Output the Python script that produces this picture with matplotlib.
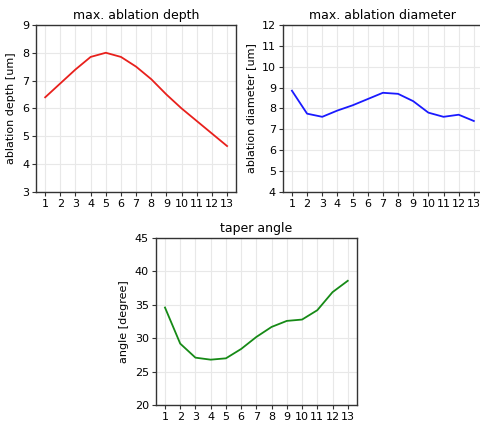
import numpy as np
import matplotlib
matplotlib.use('Agg')
import matplotlib.pyplot as plt

# values
shots = list(range(1, 14))
depth = [6.4, 6.9, 7.4, 7.85, 8.0, 7.85, 7.5, 7.05, 6.5, 6.0, 5.55, 5.1, 4.65]
diameter = [8.85, 7.75, 7.6, 7.9, 8.15, 8.45, 8.75, 8.7, 8.35, 7.8, 7.6, 7.7, 7.4]
angle = [34.6, 29.2, 27.1, 26.8, 27.0, 28.4, 30.2, 31.7, 32.6, 32.8, 34.2, 36.9, 38.6]

fig = plt.figure(figsize=(4.81, 4.22), dpi=100)

ax1 = fig.add_axes([0.075, 0.545, 0.416, 0.396])
ax2 = fig.add_axes([0.588, 0.545, 0.416, 0.396])
ax3 = fig.add_axes([0.324, 0.040, 0.418, 0.396])

panels = [
    (ax1, depth, '#e8201c', 'max. ablation depth', 'ablation depth [um]', (3, 9), 1),
    (ax2, diameter, '#1a1aff', 'max. ablation diameter', 'ablation diameter [um]', (4, 12), 1),
    (ax3, angle, '#168a16', 'taper angle', 'angle [degree]', (20, 45), 5),
]

for ax, vals, col, title, ylab, ylim, step in panels:
    ax.plot(shots, vals, color=col, lw=1.3)
    ax.set_title(title, fontsize=9, pad=4)
    ax.set_ylabel(ylab, fontsize=8)
    ax.set_ylim(*ylim)
    ax.set_yticks(np.arange(ylim[0], ylim[1] + step, step))
    ax.set_xticks(shots)
    ax.tick_params(labelsize=8, length=3, pad=2, color='#333333')
    ax.grid(True, color='#e8e8e8', lw=0.8)
    ax.set_axisbelow(True)
    for s in ax.spines.values():
        s.set_color('#333333')
        s.set_linewidth(1.0)

fig.savefig('out.png', dpi=100)
